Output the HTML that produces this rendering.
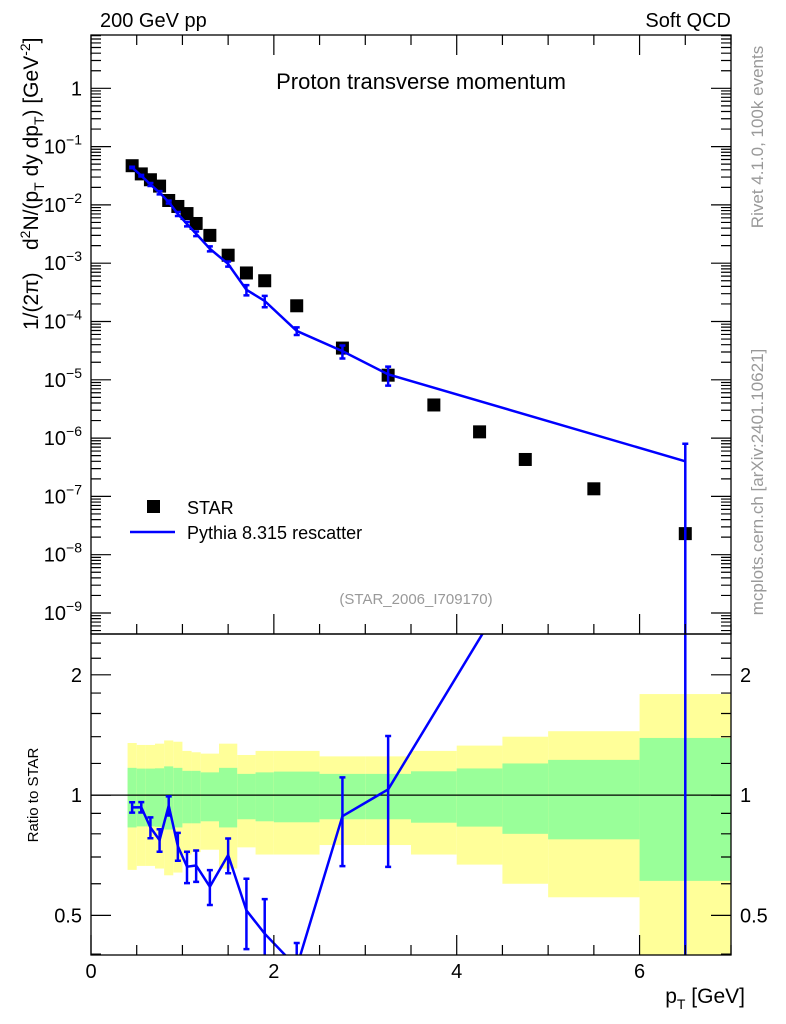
<!DOCTYPE html>
<html><head><meta charset="utf-8"><style>
html,body{margin:0;padding:0;background:#fff;}
svg{display:block;font-family:"Liberation Sans",sans-serif;}
</style></head><body>
<svg id="chart" width="786" height="1024" viewBox="0 0 786 1024" xmlns="http://www.w3.org/2000/svg">
<g id="bands"></g>
<g id="marks"></g>
<g id="axes"></g>
<text x="100" y="27" font-size="20">200 GeV pp</text>
<text x="731" y="27" font-size="20" text-anchor="end">Soft QCD</text>
<text x="421" y="89" font-size="22" text-anchor="middle">Proton transverse momentum</text>
<text x="416" y="604" font-size="15" fill="#999" text-anchor="middle">(STAR_2006_I709170)</text>
<text transform="translate(763,137) rotate(-90)" font-size="17" fill="#999" text-anchor="middle">Rivet 4.1.0,  100k events</text>
<text transform="translate(763,482) rotate(-90)" font-size="17" fill="#999" text-anchor="middle">mcplots.cern.ch [arXiv:2401.10621]</text>
<text transform="translate(38,330) rotate(-90)" font-size="21" text-anchor="start">1/(2π)</text>
<text transform="translate(38,250) rotate(-90)" font-size="21" text-anchor="start">d<tspan font-size="14" dy="-8">2</tspan><tspan dy="8">N/(p</tspan><tspan font-size="14" dy="6">T</tspan><tspan dy="-6"> dy dp</tspan><tspan font-size="14" dy="6">T</tspan><tspan dy="-6">) [GeV</tspan><tspan font-size="14" dy="-8">-2</tspan><tspan dy="8">]</tspan></text>
<text transform="translate(38,795) rotate(-90)" font-size="15" text-anchor="middle">Ratio to STAR</text>
<text x="745" y="1003" font-size="21" text-anchor="end">p<tspan font-size="14" dy="6">T</tspan><tspan dy="-6"> [GeV]</tspan></text>
<rect x="147" y="500" width="13" height="13" fill="#000"/>
<text x="187" y="514" font-size="18">STAR</text>
<line x1="130" y1="532" x2="175" y2="532" stroke="#0000ff" stroke-width="2.5"/>
<text x="187" y="539" font-size="18">Pythia 8.315 rescatter</text>
</svg>
<script>
const binEdges=[0.4,0.5,0.6,0.7,0.8,0.9,1.0,1.1,1.2,1.4,1.6,1.8,2.0,2.5,3.0,3.5,4.0,4.5,5.0,6.0,7.0];
const ptCenters=[0.45,0.55,0.65,0.75,0.85,0.95,1.05,1.15,1.3,1.5,1.7,1.9,2.25,2.75,3.25,3.75,4.25,4.75,5.5,6.5];
const starValues=[0.047,0.034,0.027,0.021,0.0119,0.0094,0.0071,0.0048,0.0030,0.00137,0.00068,0.00050,1.86e-4,3.5e-5,1.2e-5,3.7e-6,1.28e-6,4.3e-7,1.35e-7,2.3e-8];
const starTotRel=[0.35,0.335,0.335,0.345,0.37,0.36,0.29,0.28,0.27,0.345,0.26,0.29,0.29,0.25,0.25,0.29,0.33,0.40,0.445,0.79];
const starStatRel=[0.17,0.165,0.165,0.167,0.18,0.17,0.15,0.15,0.14,0.17,0.13,0.14,0.145,0.13,0.13,0.147,0.166,0.2,0.225,0.39];
const pythiaValues=[0.0438,0.0317,0.0224,0.0162,0.0112,0.0070,0.0047,0.0032,0.00177,0.00097,0.00035,0.000225,6.9e-5,3.1e-5,1.24e-5,null,null,null,null,4.0e-7];
const pythiaRelErr=[0.03,0.03,0.06,0.065,0.055,0.08,0.09,0.09,0.1,0.1,0.2,0.22,0.15,0.25,0.36,null,null,null,null,1.0];
const xTicks=[0,2,4,6];
const yMainTicks=[0,-1,-2,-3,-4,-5,-6,-7,-8,-9];
const yRatioTicks=[0.5,1,2];

const NS='http://www.w3.org/2000/svg';
const L=91,R=731,T=35,MB=634,B=955;
const X=v=>L+(v-0)*(R-L)/7;
const lmTop=0.914,lmBot=-9.36;
const Y=v=>T+(lmTop-Math.log10(v))*(MB-T)/(lmTop-lmBot);
const rTop=Math.log10(2.53),rBot=Math.log10(0.398);
const YR=v=>MB+(rTop-Math.log10(v))*(B-MB)/(rTop-rBot);
function mk(parent,tag,attrs){const e=document.createElementNS(NS,tag);for(const k in attrs)e.setAttribute(k,attrs[k]);document.getElementById(parent).appendChild(e);return e;}

const defs=document.createElementNS(NS,'defs');
defs.innerHTML='<clipPath id="cm"><rect x="91" y="35" width="640" height="599"/></clipPath><clipPath id="cr"><rect x="91" y="634" width="640" height="321"/></clipPath>';
document.getElementById('chart').prepend(defs);

for(let i=0;i<ptCenters.length;i++){
  const x1=X(binEdges[i]),x2=X(binEdges[i+1]);
  const yt=Math.max(YR(1+starTotRel[i]),MB),yb=Math.min(YR(1-starTotRel[i]),B);
  const y=mk('bands','rect',{x:x1,y:yt,width:x2-x1,height:yb-yt,fill:'#ffff99'});
  
  
  const gt=YR(1+starStatRel[i]),gb=YR(1-starStatRel[i]);
  const g=mk('bands','rect',{x:x1,y:gt,width:x2-x1,height:gb-gt,fill:'#99ff99'});
  
  
}
const one=mk('bands','line',{x1:L,x2:R,y1:YR(1),y2:YR(1),stroke:'#000','stroke-width':1.3});



for(let i=0;i<ptCenters.length;i++){
  const s=mk('marks','rect',{x:X(ptCenters[i])-6.5,y:Y(starValues[i])-6.5,width:13,height:13,fill:'#000'});
  
  
}
let pts=[],rpts=[];
for(let i=0;i<ptCenters.length;i++){
  const v=pythiaValues[i];if(v==null)continue;
  pts.push(X(ptCenters[i])+','+Y(v));
  rpts.push(X(ptCenters[i])+','+YR(v/starValues[i]));
  const e=v*pythiaRelErr[i],x=X(ptCenters[i]);
  const lo=v-e>0?Y(v-e):MB+10,hi=Y(v+e);
  const eb=mk('marks','path',{d:`M${x},${hi}V${lo}M${x-3},${hi}h6M${x-3},${lo}h6`,stroke:'#0000ff','stroke-width':2.5,fill:'none','clip-path':'url(#cm)'});
  
  
  const r=v/starValues[i],re=r*pythiaRelErr[i];
  const rl=r-re>0?YR(r-re):B+10,rh=YR(r+re);
  const rb=mk('marks','path',{d:`M${x},${rh}V${rl}M${x-3},${rh}h6M${x-3},${rl}h6`,stroke:'#0000ff','stroke-width':2.5,fill:'none','clip-path':'url(#cr)'});
  
  
}
const pl=mk('marks','polyline',{points:pts.join(' '),fill:'none',stroke:'#0000ff','stroke-width':2.5,'clip-path':'url(#cm)'});


const rl=mk('marks','polyline',{points:rpts.join(' '),fill:'none',stroke:'#0000ff','stroke-width':2.5,'clip-path':'url(#cr)'});



for(const [y1,y2,n] of [[T,MB,'main-frame'],[MB,B,'ratio-frame']]){
  const f=mk('axes','rect',{x:L,y:y1,width:R-L,height:y2-y1,fill:'none',stroke:'#000','stroke-width':1.3});
  
  
}
let tp='';
for(let v=0;v<=7.001;v+=0.5){
  const x=X(v),maj=Math.abs(v%2)<1e-6,len=maj?20:10;
  tp+=`M${x},${B}v${-len}M${x},${MB}v${-len}M${x},${T}v${len}`;
}
for(let d=-10;d<=0;d++){
  for(let m=1;m<10;m++){
    const v=m*Math.pow(10,d),y=Y(v);if(y<T||y>MB)continue;
    const len=m==1?20:10;tp+=`M${L},${y}h${len}M${R},${y}h${-len}`;
  }
}
for(const v of [0.4,0.5,0.6,0.7,0.8,0.9,1,1.2,1.4,1.6,1.8,2,2.2,2.4]){
  const y=YR(v);if(y<MB||y>B)continue;const len=yRatioTicks.includes(v)?20:10;
  tp+=`M${L},${y}h${len}M${R},${y}h${-len}`;
}
const tk=mk('axes','path',{d:tp,stroke:'#000','stroke-width':1.2,fill:'none'});



for(const v of xTicks){
  const t=mk('axes','text',{x:X(v),y:978,'font-size':20,'text-anchor':'middle'});t.textContent=v;
  
  
}
for(const d of yMainTicks){
  const y=Y(Math.pow(10,d));
  const t=mk('axes','text',{x:82,y:y+7,'font-size':20,'text-anchor':'end'});
  if(d===0)t.textContent='1';else t.innerHTML='10<tspan font-size="14" dy="-9">\u2212'+(-d)+'</tspan>';
  
  
}
for(const v of yRatioTicks){
  const y=YR(v);
  const t=mk('axes','text',{x:82,y:y+7,'font-size':20,'text-anchor':'end'});t.textContent=v;
  
  
  const t2=mk('axes','text',{x:740,y:y+7,'font-size':20});t2.textContent=v;
  
  
}
</script>
</body></html>
